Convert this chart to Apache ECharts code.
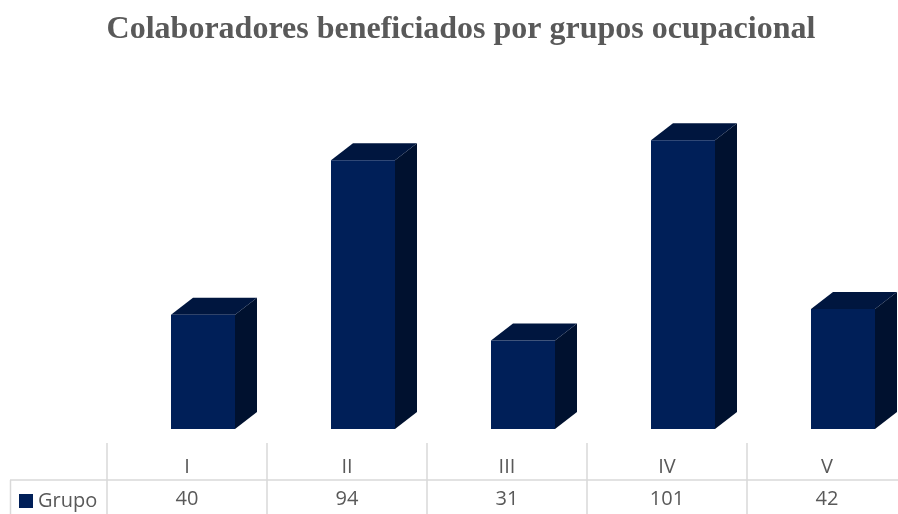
<!DOCTYPE html>
<html>
<head>
<meta charset="utf-8">
<script src="https://cdn.jsdelivr.net/npm/echarts@6/dist/echarts.min.js"></script>
<style>html,body{margin:0;padding:0;background:#fff;}#c{width:898px;height:514px;}</style>
</head>
<body>
<div id="c"></div>
<script>
const titleText = 'Colaboradores beneficiados por grupos ocupacional';
const categories = ['I', 'II', 'III', 'IV', 'V'];
const seriesName = 'Grupo';
const values = [40, 94, 31, 101, 42];

const FRONT = '#001f58';
const SIDE = '#00112f';
const TOP = '#00163f';
const GRID_LINE = '#d9d9d9';
const TEXT = '#595959';

const chart = echarts.init(document.getElementById('c'), null, {renderer: 'canvas'});
const option = {
  animation: false,
  backgroundColor: '#ffffff',
  title: {
    text: titleText,
    left: 456, textAlign: 'center', top: 9,
    textStyle: {fontFamily: 'Liberation Serif', fontWeight: 'bold', fontSize: 32, color: TEXT}
  },
  legend: {
    data: [seriesName],
    left: 14, top: 486,
    icon: 'rect', itemWidth: 14, itemHeight: 14,
    textStyle: {fontFamily: 'Open Sans', fontSize: 20, color: TEXT},
    selectedMode: false
  },
  grid: [
    {left: 107, width: 800, top: 86, height: 343, containLabel: false, outerBoundsMode: 'none'},
    {left: 107, width: 800, top: 443, height: 71, containLabel: false, outerBoundsMode: 'none'}
  ],
  xAxis: [
    {
      type: 'category', data: categories, position: 'bottom', gridIndex: 0, offset: 14,
      axisLine: {show: false}, axisTick: {show: false},
      axisLabel: {margin: 24, verticalAlign: 'middle', fontFamily: 'Open Sans', fontSize: 20, color: TEXT}
    },
    {
      type: 'category', data: categories, position: 'bottom', gridIndex: 0, offset: 14,
      axisLine: {show: false}, axisTick: {show: false},
      axisLabel: {margin: 56, verticalAlign: 'middle', fontFamily: 'Open Sans', fontSize: 20, color: TEXT,
        formatter: (v, i) => String(values[i])}
    },
    {
      type: 'category', data: categories, gridIndex: 1,
      axisLine: {show: false}, axisTick: {show: false}, axisLabel: {show: false},
      splitLine: {show: true, interval: 0, lineStyle: {color: GRID_LINE, width: 1.5}}
    }
  ],
  yAxis: [
    {type: 'value', min: 0, max: 120, show: false, splitLine: {show: false}, gridIndex: 0},
    {type: 'value', min: 0, max: 1, show: false, splitLine: {show: false}, gridIndex: 1}
  ],
  graphic: [
    {type: 'line', shape: {x1: 10, y1: 480, x2: 898, y2: 480}, style: {stroke: GRID_LINE, lineWidth: 1.5}},
    {type: 'line', shape: {x1: 10.5, y1: 480, x2: 10.5, y2: 514}, style: {stroke: GRID_LINE, lineWidth: 1.5}}
  ],
  series: [{
    name: seriesName,
    type: 'custom',
    xAxisIndex: 0, yAxisIndex: 0,
    itemStyle: {color: FRONT},
    data: values.map((v, i) => [i, v]),
    encode: {x: 0, y: 1},
    renderItem: function (params, api) {
      const i = api.value(0), v = api.value(1);
      const top = api.coord([i, v]);
      const base = api.coord([i, 0]);
      const band = api.size([1, 0])[0];
      const xl = top[0] - band * 0.1;
      const xr = top[0] + band * 0.3;
      const dx = band * 0.1375, dy = 17;
      return {
        type: 'group',
        children: [
          {type: 'polygon', shape: {points: [[xr, top[1]], [xr + dx, top[1] - dy], [xr + dx, base[1] - dy], [xr, base[1]]]}, style: {fill: SIDE}},
          {type: 'polygon', shape: {points: [[xl, top[1]], [xl + dx, top[1] - dy], [xr + dx, top[1] - dy], [xr, top[1]]]}, style: {fill: TOP}},
          {type: 'rect', shape: {x: xl, y: top[1], width: xr - xl, height: base[1] - top[1]}, style: {fill: FRONT}}
        ]
      };
    }
  }]
};
chart.setOption(option);
</script>
</body>
</html>
